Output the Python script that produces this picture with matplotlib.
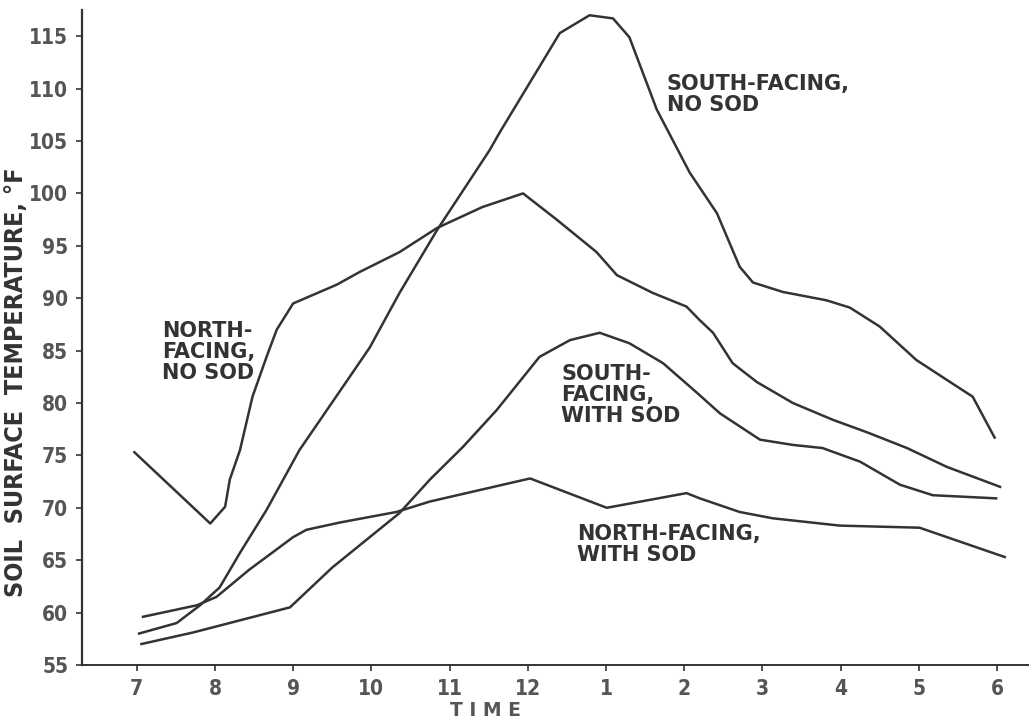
import matplotlib
matplotlib.use("Agg")
import matplotlib.pyplot as plt

# hours on a 24h clock (7 am .. 6 pm), temperatures in deg F
north_nosod_x = [6.97, 7.94, 8.13, 8.19, 8.32, 8.48, 8.66, 8.79, 9.0, 9.56, 9.85, 10.36,
                 10.84, 11.42, 11.94, 12.37, 12.88, 13.14, 13.6, 14.03, 14.2, 14.37, 14.62,
                 14.93, 15.39, 15.9, 16.34, 16.85, 17.36, 18.04]
north_nosod_y = [75.3, 68.5, 70.1, 72.7, 75.5, 80.6, 84.4, 87.0, 89.5, 91.3, 92.5, 94.4,
                 96.7, 98.7, 100.0, 97.5, 94.4, 92.2, 90.5, 89.2, 87.9, 86.7, 83.8,
                 82.0, 80.0, 78.4, 77.2, 75.7, 73.9, 72.0]

south_nosod_x = [7.03, 7.51, 7.81, 8.06, 8.32, 8.66, 9.08, 9.76, 9.98, 10.36, 10.84, 11.51,
                 11.64, 12.41, 12.79, 13.09, 13.3, 13.65, 14.07, 14.42, 14.71, 14.88, 15.26,
                 15.82, 16.12, 16.5, 16.97, 17.36, 17.69, 17.97]
south_nosod_y = [58.0, 59.0, 60.7, 62.4, 65.7, 69.8, 75.5, 82.9, 85.3, 90.5, 96.5, 104.1,
                 105.8, 115.3, 117.0, 116.7, 114.9, 108.0, 102.0, 98.1, 93.0, 91.5, 90.6,
                 89.8, 89.1, 87.3, 84.1, 82.2, 80.6, 76.7]

south_sod_x = [7.06, 7.72, 8.96, 9.5, 10.36, 10.75, 11.17, 11.6, 12.15, 12.54, 12.92, 13.3,
               13.73, 14.16, 14.46, 14.97, 15.39, 15.77, 16.25, 16.76, 17.18, 17.99]
south_sod_y = [57.0, 58.1, 60.5, 64.3, 69.5, 72.7, 75.8, 79.3, 84.4, 86.0, 86.7, 85.7,
               83.8, 81.0, 79.0, 76.5, 76.0, 75.7, 74.4, 72.2, 71.2, 70.9]

north_sod_x = [7.08, 7.77, 8.02, 8.44, 9.0, 9.17, 9.6, 10.32, 10.75, 12.03, 13.01, 14.03,
               14.2, 14.71, 15.13, 15.99, 17.01, 18.1]
north_sod_y = [59.6, 60.7, 61.5, 64.1, 67.2, 67.9, 68.6, 69.6, 70.6, 72.8, 70.0, 71.4,
               70.9, 69.6, 69.0, 68.3, 68.1, 65.3]

hour_ticks = [7, 8, 9, 10, 11, 12, 13, 14, 15, 16, 17, 18]
hour_labels = ["7", "8", "9", "10", "11", "12", "1", "2", "3", "4", "5", "6"]
temp_ticks = [55, 60, 65, 70, 75, 80, 85, 90, 95, 100, 105, 110, 115]

ink = "#333333"
tick_ink = "#555555"

fig = plt.figure(figsize=(10.29, 7.21), dpi=100)
ax = fig.add_axes([0.0797, 0.0777, 0.9203, 0.9084])

# draw the four curves
for xs, ys in [(north_nosod_x, north_nosod_y), (south_nosod_x, south_nosod_y),
               (south_sod_x, south_sod_y), (north_sod_x, north_sod_y)]:
    ax.plot(xs, ys, color=ink, linewidth=1.8, solid_joinstyle="round")

ax.set_xlim(6.30, 18.41)
ax.set_ylim(55, 117.5)
ax.spines["top"].set_visible(False)
ax.spines["right"].set_visible(False)
ax.spines["left"].set_color(ink)
ax.spines["bottom"].set_color(ink)
ax.spines["left"].set_linewidth(1.6)
ax.spines["bottom"].set_linewidth(1.4)

ax.set_xticks(hour_ticks)
ax.set_xticklabels(hour_labels)
ax.set_yticks(temp_ticks)
ax.tick_params(axis="both", direction="out", length=4, width=1.2, color=ink,
               labelcolor=tick_ink, labelsize=15)
ax.tick_params(axis="x", pad=6)
ax.tick_params(axis="y", pad=6)
for lab in ax.get_xticklabels() + ax.get_yticklabels():
    lab.set_fontweight("bold")
    lab.set_fontstretch("condensed")

ax.set_xlabel("T I M E", fontsize=13.5, fontweight="bold", color=tick_ink, va="top")
ax.xaxis.set_label_coords(0.4256, -0.055)
ax.set_ylabel("SOIL  SURFACE  TEMPERATURE, °F", fontsize=18, fontweight="bold",
              color=ink, fontstretch="condensed")
ax.yaxis.set_label_coords(-0.057, 0.432)

# curve labels
lab_kw = dict(fontsize=15, fontweight="bold", color=ink, va="top", ha="left",
              linespacing=1.07)
ax.text(13.78, 111.4, "SOUTH-FACING,\nNO SOD", **lab_kw)
ax.text(7.32, 87.8, "NORTH-\nFACING,\nNO SOD", **lab_kw)
ax.text(12.43, 83.7, "SOUTH-\nFACING,\nWITH SOD", **lab_kw)
ax.text(12.63, 68.45, "NORTH-FACING,\nWITH SOD", **lab_kw)

plt.savefig("out.png", dpi=100)
